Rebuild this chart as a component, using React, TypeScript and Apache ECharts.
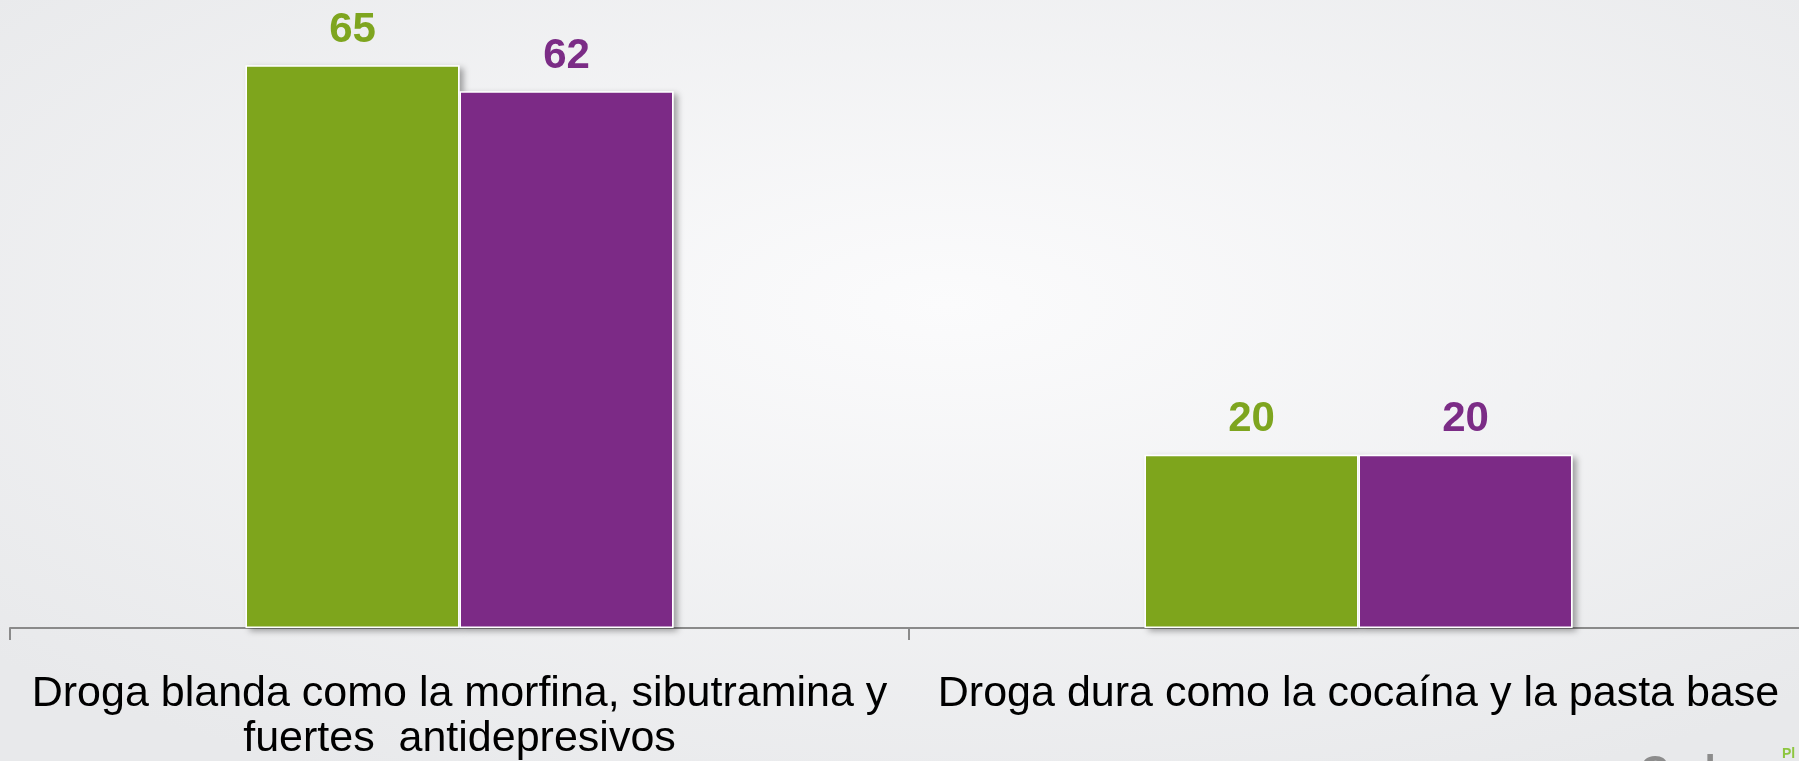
import React, { useEffect, useRef } from "react";
import * as echarts from "echarts";

const categories = [
  "Droga blanda como la morfina, sibutramina y\nfuertes  antidepresivos",
  "Droga dura como la cocaína y la pasta base",
];
const seriesA = [65, 20];
const seriesB = [62, 20];
const seriesNames = ["Serie 1", "Serie 2"];
const colors = ["#7ea51f", "#7b2c86"];

export default function App() {
  const ref = useRef<HTMLDivElement>(null);
  useEffect(() => {
    const chart = echarts.init(ref.current!, null, { renderer: "svg" });
    const mkSeries = (name: string, data: number[], color: string) => ({
      name,
      type: "bar",
      data,
      barWidth: 214,
      barGap: "0%",
      itemStyle: {
        color,
        borderColor: "#ffffff",
        borderWidth: 1.5,
        shadowColor: "rgba(0,0,0,0.35)",
        shadowBlur: 6,
        shadowOffsetX: 4,
        shadowOffsetY: 3,
      },
      label: {
        show: true,
        position: "top",
        distance: 17,
        color,
        fontSize: 42,
        fontWeight: "bold",
        fontFamily: "Liberation Sans, Arial, sans-serif",
      },
    });
    chart.setOption({
      animation: false,
      backgroundColor: {
        type: "radial",
        x: 0.52,
        y: 0.4,
        r: 0.7,
        colorStops: [
          { offset: 0, color: "#fbfbfc" },
          { offset: 1, color: "#e8e9eb" },
        ],
      },
      grid: { left: 10, width: 1798, top: 22, bottom: 133, containLabel: false },
      xAxis: {
        type: "category",
        data: categories,
        axisLine: { show: true, lineStyle: { color: "#8a8a8a", width: 2 } },
        axisTick: { show: true, length: 12, lineStyle: { color: "#8a8a8a", width: 2 } },
        axisLabel: {
          interval: 0,
          color: "#000000",
          fontSize: 43,
          lineHeight: 45,
          margin: 40,
          fontFamily: "Liberation Sans, Arial, sans-serif",
        },
      },
      yAxis: {
        type: "value",
        min: 0,
        max: 70,
        show: false,
        splitLine: { show: false },
      },
      series: [
        mkSeries(seriesNames[0], seriesA, colors[0]),
        mkSeries(seriesNames[1], seriesB, colors[1]),
      ],
      graphic: [
        {
          type: "text",
          left: 1640,
          top: 750,
          style: {
            text: "Cadem",
            fill: "#8c8c8c",
            fontSize: 40,
            fontWeight: "bold",
            fontFamily: "Liberation Sans, Arial, sans-serif",
          },
        },
        {
          type: "text",
          left: 1782,
          top: 746,
          style: {
            text: "Pl",
            fill: "#8dc63f",
            fontSize: 14,
            fontWeight: "bold",
            fontFamily: "Liberation Sans, Arial, sans-serif",
          },
        },
      ],
    });
    return () => chart.dispose();
  }, []);
  return (
    <div
      style={{
        position: "fixed",
        left: 0,
        top: 0,
        width: 1799,
        height: 761,
        overflow: "hidden",
      }}
    >
      <div ref={ref} style={{ width: 1820, height: 761 }} />
    </div>
  );
}
